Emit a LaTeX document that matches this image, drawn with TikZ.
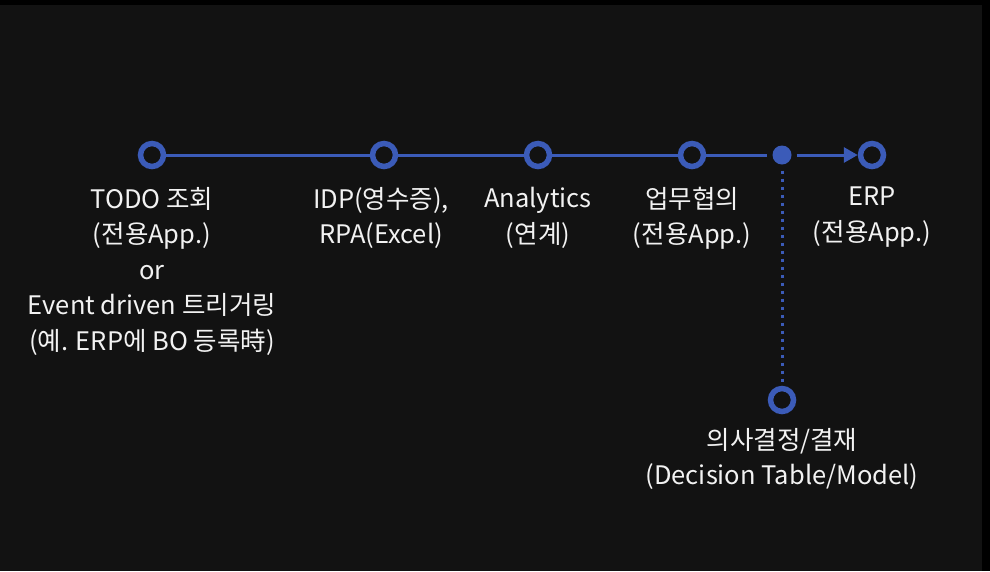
\documentclass[tikz,border=0pt]{standalone}
\usepackage{fontspec}
\setmainfont{Noto Sans CJK KR}
\usetikzlibrary{arrows.meta}
\definecolor{flowblue}{HTML}{3B5BB8}
\definecolor{panel}{HTML}{121212}
\definecolor{labelwhite}{HTML}{F2F2F2}
\tikzset{
  stepring/.style={circle,draw=flowblue,line width=5.5pt,fill=panel,minimum size=23pt,inner sep=0pt},
  stepdot/.style={circle,fill=flowblue,minimum size=19pt,inner sep=0pt},
  steplabel/.style={anchor=north,inner sep=0pt,align=center,text=labelwhite,font=\fontsize{25.5}{35.5}\selectfont},
  flowline/.style={draw=flowblue,line width=3pt}
}
\begin{document}
\begin{tikzpicture}[x=1pt,y=-1pt]
\path[use as bounding box] (0,0) rectangle (990,571);
\fill[black] (0,0) rectangle (990,571);
\fill[panel] (0,5) rectangle (982,571);
% steps along the flow
\node[stepring] (todo) at (152,155) {};
\node[stepring] (idp) at (384,155) {};
\node[stepring] (analytics) at (538,155) {};
\node[stepring] (consult) at (692,155) {};
\node[stepdot] (branch) at (782,155) {};
\node[stepring] (erp) at (872,155) {};
\node[stepring] (decide) at (782,400) {};
\draw[flowline] (todo) -- (idp);
\draw[flowline] (idp) -- (analytics);
\draw[flowline] (analytics) -- (consult);
\draw[flowline,shorten >=5pt] (consult) -- (branch);
\draw[flowline,shorten <=5pt,-{Triangle[length=14pt,width=15pt]}] (branch) -- (erp);
\draw[flowline,dash pattern=on 3pt off 5pt,shorten <=6pt] (branch) -- (decide);
% labels
\node[steplabel] (todotext) at (152,187) {TODO 조회\\(전용App.)\\or\\Event driven 트리거링\\(예. ERP에 BO 등록時)};
\node[steplabel] (idptext) at (381,187) {IDP(영수증),\\RPA(Excel)};
\node[steplabel] (analyticstext) at (538,187) {Analytics\\(연계)};
\node[steplabel] (consulttext) at (692,187) {업무협의\\(전용App.)};
\node[steplabel] (erptext) at (872,187) {ERP\\(전용App.)};
\node[steplabel] (decidetext) at (782,428) {의사결정/결재\\(Decision Table/Model)};
\end{tikzpicture}
\end{document}
